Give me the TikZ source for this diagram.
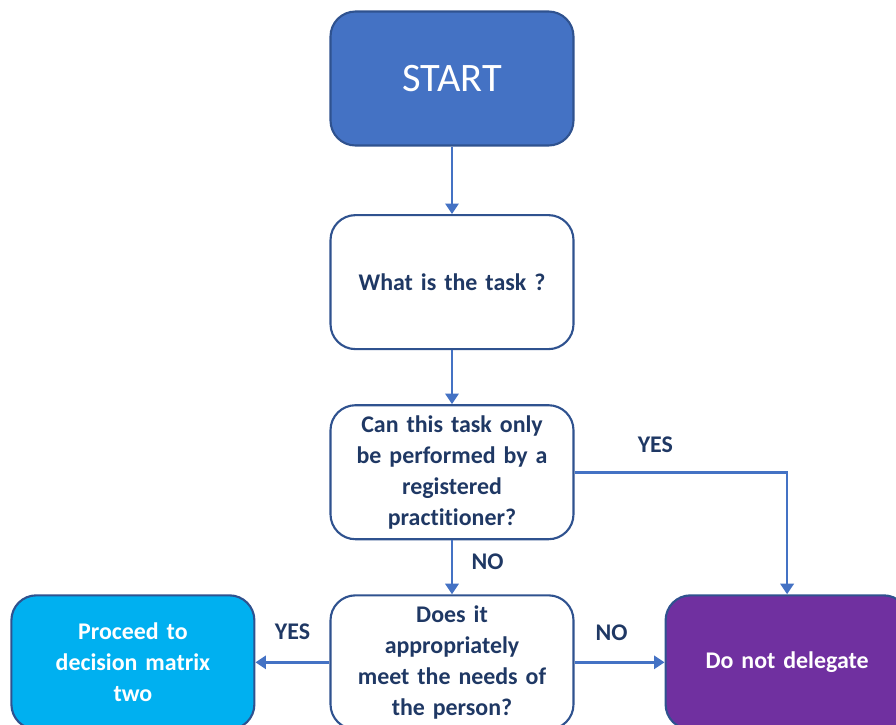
\documentclass[tikz,border=0pt]{standalone}
\usepackage{fontspec}
\setmainfont[Ligatures=NoCommon]{Carlito}
\usetikzlibrary{positioning,arrows.meta}
\definecolor{startblue}{HTML}{4472C4}
\definecolor{edgeblue}{HTML}{2F528F}
\definecolor{navy}{HTML}{1F3864}
\definecolor{skyblue}{HTML}{00B0F0}
\definecolor{grape}{HTML}{7030A0}
\begin{document}
\begin{tikzpicture}[
    node distance=10.8mm and 14.8mm,
    box/.style={draw=edgeblue, line width=1.2pt, rounded corners=5mm, align=center, minimum height=26.8mm, minimum width=48.6mm, text width=44mm, font=\fontsize{13.6}{17.6}\selectfont\bfseries, text=navy},
    lbl/.style={font=\fontsize{13.6}{17.6}\selectfont\bfseries, text=navy},
    arr/.style={-{Triangle[width=7.5pt,length=6pt]}, draw=startblue, line width=1.5pt}
]
\useasboundingbox (0,0) rectangle (17.92,-14.48);
\clip (0,0) rectangle (17.92,-14.48);
\node[box, fill=startblue, text=white, font=\fontsize{23}{28}\selectfont] (start) at (9.04,-1.57) {START};
\node[box, below=13.5mm of start] (task) {What is the task ?};
\node[box, below=of task] (registered) {Can this task only\\be performed by a\\registered\\practitioner?};
\node[box, below=of registered] (needs) {Does it\\appropriately\\meet the needs of\\the person?};
\node[box, fill=skyblue, text=white, left=of needs] (proceed) {Proceed to\\decision matrix\\two};
\node[box, fill=grape, text=white, right=18mm of needs] (nodelegate) {Do not delegate};
\draw[arr] (start) -- (task);
\draw[arr] (task) -- (registered);
\draw[arr] (registered) -- node[lbl, right, xshift=2.5mm, pos=0.4] (no1) {NO} (needs);
\draw[arr] (registered.east) -| node[lbl, above=2.4mm, pos=0.19] (yes1) {YES} (nodelegate.north);
\draw[arr] (needs) -- node[lbl, above=3.2mm] (yes2) {YES} (proceed);
\draw[arr] (needs) -- node[lbl, above=3mm, xshift=-1.6mm] (no2) {NO} (nodelegate);
\end{tikzpicture}
\end{document}
